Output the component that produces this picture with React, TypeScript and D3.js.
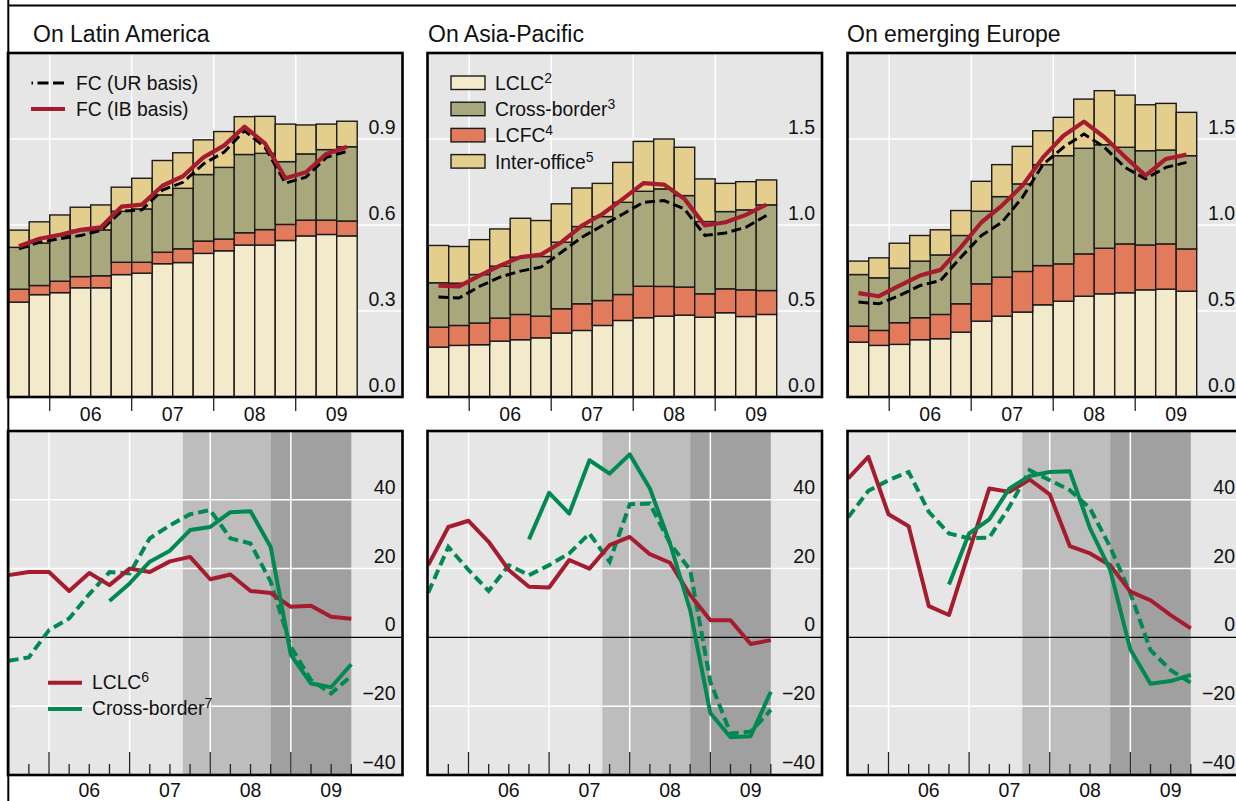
import React from 'react';
import * as d3 from 'd3';

// ---------- data ----------
const quarters = ['2005Q3','2005Q4','2006Q1','2006Q2','2006Q3','2006Q4','2007Q1','2007Q2','2007Q3','2007Q4','2008Q1','2008Q2','2008Q3','2008Q4','2009Q1','2009Q2','2009Q3'];
const regionTitles = ['On Latin America', 'On Asia-Pacific', 'On emerging Europe'];

// Foreign claims components (USD trn)
const latamLCLC = [0.331,0.357,0.364,0.381,0.381,0.427,0.432,0.465,0.469,0.501,0.510,0.530,0.530,0.546,0.562,0.567,0.562];
const latamLCFC = [0.045,0.032,0.040,0.039,0.042,0.043,0.038,0.040,0.048,0.043,0.041,0.043,0.054,0.056,0.055,0.050,0.052];
const latamCrossBorder = [0.146,0.148,0.159,0.161,0.160,0.178,0.186,0.200,0.211,0.232,0.250,0.273,0.266,0.219,0.231,0.246,0.259];
const latamInterOffice = [0.060,0.074,0.072,0.081,0.087,0.084,0.107,0.120,0.124,0.121,0.125,0.132,0.129,0.131,0.101,0.089,0.089];
const latamFCUR = [0.517,0.540,0.552,0.563,0.581,0.648,0.653,0.722,0.749,0.813,0.854,0.929,0.871,0.746,0.767,0.836,0.857];
const latamFCIB = [0.526,0.552,0.566,0.583,0.592,0.664,0.671,0.737,0.770,0.836,0.877,0.943,0.885,0.763,0.784,0.848,0.873];

const asiaLCLC = [0.290,0.300,0.304,0.325,0.333,0.344,0.372,0.387,0.416,0.445,0.461,0.470,0.476,0.464,0.490,0.468,0.480];
const asiaLCFC = [0.116,0.116,0.126,0.134,0.147,0.126,0.141,0.155,0.145,0.151,0.183,0.173,0.163,0.136,0.139,0.155,0.139];
const asiaCrossBorder = [0.258,0.246,0.282,0.302,0.333,0.347,0.387,0.449,0.488,0.536,0.552,0.567,0.532,0.420,0.449,0.465,0.498];
const asiaInterOffice = [0.217,0.213,0.203,0.216,0.226,0.209,0.223,0.224,0.193,0.232,0.290,0.290,0.281,0.248,0.164,0.164,0.145];
const asiaFCUR = [0.581,0.575,0.643,0.697,0.732,0.755,0.842,0.929,0.997,1.064,1.132,1.142,1.093,0.939,0.954,0.987,1.055];
const asiaFCIB = [0.648,0.643,0.706,0.764,0.813,0.828,0.900,0.997,1.064,1.152,1.243,1.235,1.152,0.997,1.016,1.059,1.119];

const europeLCLC = [0.319,0.300,0.306,0.333,0.339,0.377,0.441,0.470,0.494,0.536,0.557,0.586,0.600,0.606,0.623,0.627,0.615];
const europeLCFC = [0.093,0.087,0.126,0.128,0.141,0.165,0.217,0.227,0.236,0.228,0.217,0.246,0.265,0.284,0.261,0.263,0.246];
const europeCrossBorder = [0.300,0.306,0.317,0.329,0.346,0.397,0.422,0.468,0.509,0.587,0.629,0.614,0.602,0.562,0.548,0.546,0.542];
const europeInterOffice = [0.078,0.116,0.145,0.149,0.146,0.145,0.174,0.186,0.218,0.197,0.223,0.286,0.314,0.303,0.267,0.271,0.252];
const europeFCUR = [0.552,0.542,0.590,0.648,0.677,0.813,0.939,1.016,1.161,1.351,1.452,1.529,1.452,1.335,1.268,1.335,1.364];
const europeFCIB = [0.604,0.586,0.648,0.706,0.739,0.871,1.016,1.113,1.229,1.393,1.519,1.601,1.510,1.397,1.287,1.384,1.409];

// Growth rates (%, yoy) at quarter ends
const growthDates = [2005.5,2005.75,2006,2006.25,2006.5,2006.75,2007,2007.25,2007.5,2007.75,2008,2008.25,2008.5,2008.75,2009,2009.25,2009.5,2009.75];
const latamLCLCGrowth = [18.1,19,19,13.5,18.7,15.2,20,19,22.1,23.4,16.9,18.3,13.5,12.9,8.9,9.2,6,5.4];
const latamCBGrowth = [null,null,null,null,null,10.6,15.7,22,25.2,31.2,32.1,36.4,36.7,26.3,-5.1,-13.4,-14.5,-7.8];
const latamCBGrowthAlt = [-6.8,-5.8,2.1,5.5,12.6,19,18.6,28.8,32.6,35.8,37,28.8,27.3,16.2,-2.7,-12.4,-16.3,-11.2];
const asiaLCLCGrowth = [21,32.1,33.9,27.8,19.6,14.7,14.5,22.5,20,26.8,29.2,24.2,21.7,12.3,5,5,-1.9,-0.8];
const asiaCBGrowth = [null,null,null,null,null,28.5,42,36,51.5,47.6,53.2,43.3,27.3,7.9,-22,-29,-28.7,-15.8];
const asiaCBGrowthAlt = [13,26.3,19.6,13.5,21,18.1,21,24.4,30.2,22,38.7,38.9,27.3,19.6,-12.9,-27.9,-27.4,-21.1];
const europeLCLCGrowth = [46.2,52.5,35.8,32.3,9.1,6.5,25,43.3,42.3,45.9,41.6,26.5,24.4,21,13.3,10.8,6.5,2.6];
const europeCBGrowth = [null,null,null,null,null,15.4,30.2,34.3,43.3,46.9,48.1,48.3,31.7,19.6,-3.5,-13.5,-12.7,-10.9];
const europeCBGrowthAlt = [34.9,42.6,45.7,48.1,36.5,30.2,28.8,29,38,48.6,45.7,42.8,37.5,26.3,12.8,-3.7,-9.5,-13.2];

const yearTicks = [2006, 2007, 2008, 2009];
const yearLabels = ['06', '07', '08', '09'];
const topTicksLatam = [0, 0.3, 0.6, 0.9];
const topTicksOther = [0, 0.5, 1.0, 1.5];
const bottomTicks = [-40, -20, 0, 20, 40];
const crisisPhases = [[2007.66, 2008.75], [2008.75, 2009.75]];

// ---------- styling ----------
const FONT = '"Liberation Sans", Arial, Helvetica, sans-serif';
const BG = '#e6e6e6';
const C_LCLC = '#f3eacb';
const C_LCFC = '#e27a5c';
const C_CB = '#a8a87c';
const C_IO = '#e3ce8e';
const RED = '#a61b2e';
const GREEN = '#008a52';
const SHADES = ['#bdbdbd', '#a0a0a0'];

const panelLeft = [8, 427.5, 847.5];
const panelW = 394.5;
const TOP = { y0: 53, y1: 397 };
const BOT = { y0: 431, y1: 775 };
const titleX = [33, 428, 847];

const regions = [
  { lclc: latamLCLC, lcfc: latamLCFC, cb: latamCrossBorder, io: latamInterOffice, ur: latamFCUR, ib: latamFCIB, max: 1.2, ticks: topTicksLatam, gL: latamLCLCGrowth, gC: latamCBGrowth, gA: latamCBGrowthAlt },
  { lclc: asiaLCLC, lcfc: asiaLCFC, cb: asiaCrossBorder, io: asiaInterOffice, ur: asiaFCUR, ib: asiaFCIB, max: 2.0, ticks: topTicksOther, gL: asiaLCLCGrowth, gC: asiaCBGrowth, gA: asiaCBGrowthAlt },
  { lclc: europeLCLC, lcfc: europeLCFC, cb: europeCrossBorder, io: europeInterOffice, ur: europeFCUR, ib: europeFCIB, max: 2.0, ticks: topTicksOther, gL: europeLCLCGrowth, gC: europeCBGrowth, gA: europeCBGrowthAlt },
];

const qStart = (q: string) => +q.slice(0, 4) + (+q.slice(5) - 1) / 4;
const keys = ['lclc', 'lcfc', 'cb', 'io'];
const keyColor: Record<string, string> = { lclc: C_LCLC, lcfc: C_LCFC, cb: C_CB, io: C_IO };

function fmtTop(v: number) { return v.toFixed(1); }
function fmtBot(v: number) { return v < 0 ? '\u2212' + Math.abs(v) : String(v); }

function TopPanel({ i }: { i: number }) {
  const L = panelLeft[i];
  const R = L + panelW;
  const reg = regions[i];
  const x = d3.scaleLinear().domain([2005.5, 2009.75]).range([L + 0.7, L + 0.7 + 348.5]);
  const y = d3.scaleLinear().domain([0, reg.max]).range([TOP.y1, TOP.y0]);
  const rows = quarters.map((q, k) => ({ q, lclc: reg.lclc[k], lcfc: reg.lcfc[k], cb: reg.cb[k], io: reg.io[k] }));
  const series = d3.stack<any>().keys(keys)(rows);
  const line = d3.line<number>().x((_, k) => x(qStart(quarters[k]) + 0.125)).y(v => y(v));
  const clipId = `tclip${i}`;
  return (
    <g>
      <defs><clipPath id={clipId}><rect x={L} y={TOP.y0} width={panelW} height={TOP.y1 - TOP.y0} /></clipPath></defs>
      <rect x={L} y={TOP.y0} width={panelW} height={TOP.y1 - TOP.y0} fill={BG} />
      <g clipPath={`url(#${clipId})`}>
        {reg.ticks.filter(t => t > 0).map(t => (
          <line key={t} x1={L} x2={R} y1={y(t)} y2={y(t)} stroke="#fff" strokeWidth={1.5} />
        ))}
        {yearTicks.map(t => (
          <line key={t} x1={x(t)} x2={x(t)} y1={TOP.y0} y2={TOP.y1} stroke="#fff" strokeWidth={1.5} />
        ))}
        {series.map(s => s.map((d, k) => {
          const x0 = x(qStart(quarters[k]));
          const x1 = x(qStart(quarters[k]) + 0.25);
          return <rect key={s.key + k} x={x0} y={y(d[1])} width={x1 - x0} height={y(d[0]) - y(d[1])}
            fill={keyColor[s.key]} stroke="#1a1a1a" strokeWidth={1.4} />;
        }))}
        <path d={line(reg.ur) || ''} fill="none" stroke="#000" strokeWidth={3} strokeDasharray="10 4.5" />
        <path d={line(reg.ib) || ''} fill="none" stroke={RED} strokeWidth={4.2} strokeLinejoin="round" />
      </g>
      {reg.ticks.map(t => (
        <text key={t} x={R - 7} y={y(t) - 5} textAnchor="end" fontSize={19.5} fontFamily={FONT} fill="#111">{fmtTop(t)}</text>
      ))}
      <rect x={L} y={TOP.y0} width={panelW} height={TOP.y1 - TOP.y0} fill="none" stroke="#000" strokeWidth={2.6} />
      {yearTicks.map(t => (
        <line key={t} x1={x(t)} x2={x(t)} y1={TOP.y1} y2={TOP.y1 + 14} stroke="#222" strokeWidth={1.3} />
      ))}
      {yearTicks.map((t, k) => (
        <text key={t} x={x(t + 0.5)} y={420.5} textAnchor="middle" fontSize={19.5} fontFamily={FONT} fill="#111">{yearLabels[k]}</text>
      ))}
      <text x={titleX[i]} y={42} fontSize={23} fontFamily={FONT} fill="#111">{regionTitles[i]}</text>
    </g>
  );
}

function BottomPanel({ i }: { i: number }) {
  const L = panelLeft[i];
  const R = L + panelW;
  const reg = regions[i];
  const x = d3.scaleLinear().domain([2005.5, 2009.75]).range([L + 0.7, L + 0.7 + 342.6]);
  const y = d3.scaleLinear().domain([-40, 60]).range([BOT.y1, BOT.y0]);
  const line = d3.line<any>().defined(v => v !== null).x((_, k) => x(growthDates[k])).y(v => y(v));
  const clipId = `bclip${i}`;
  const minor = growthDates.filter(t => t > 2005.5 && t % 1 !== 0);
  return (
    <g>
      <defs><clipPath id={clipId}><rect x={L} y={BOT.y0} width={panelW} height={BOT.y1 - BOT.y0} /></clipPath></defs>
      <rect x={L} y={BOT.y0} width={panelW} height={BOT.y1 - BOT.y0} fill={BG} />
      <g clipPath={`url(#${clipId})`}>
        {crisisPhases.map((p, k) => (
          <rect key={k} x={x(p[0])} y={BOT.y0} width={x(p[1]) - x(p[0])} height={BOT.y1 - BOT.y0} fill={SHADES[k]} />
        ))}
        {bottomTicks.filter(t => t !== 0 && t !== -40).map(t => (
          <line key={t} x1={L} x2={R} y1={y(t)} y2={y(t)} stroke="#fff" strokeWidth={1.5} />
        ))}
        {yearTicks.map(t => (
          <line key={t} x1={x(t)} x2={x(t)} y1={BOT.y0} y2={BOT.y1} stroke="#fff" strokeWidth={1.5} />
        ))}
        <line x1={L} x2={R} y1={y(0)} y2={y(0)} stroke="#000" strokeWidth={1.2} />
        {yearTicks.map(t => (
          <line key={'M' + t} x1={x(t)} x2={x(t)} y1={BOT.y1} y2={BOT.y1 - 23} stroke="#222" strokeWidth={1.3} />
        ))}
        {minor.map(t => (
          <line key={'m' + t} x1={x(t)} x2={x(t)} y1={BOT.y1} y2={BOT.y1 - 11} stroke="#222" strokeWidth={1.3} />
        ))}
        <path d={line(reg.gA) || ''} fill="none" stroke={GREEN} strokeWidth={4} strokeDasharray="10 5" />
        <path d={line(reg.gL) || ''} fill="none" stroke={RED} strokeWidth={4} strokeLinejoin="round" />
        <path d={line(reg.gC) || ''} fill="none" stroke={GREEN} strokeWidth={4} strokeLinejoin="round" />
      </g>
      {bottomTicks.map(t => (
        <text key={t} x={R - 7} y={y(t) - 6} textAnchor="end" fontSize={19.5} fontFamily={FONT} fill="#111">{fmtBot(t)}</text>
      ))}
      <rect x={L} y={BOT.y0} width={panelW} height={BOT.y1 - BOT.y0} fill="none" stroke="#000" strokeWidth={2.6} />
      {yearTicks.map((t, k) => (
        <text key={t} x={x(t + 0.5)} y={796.5} textAnchor="middle" fontSize={19.5} fontFamily={FONT} fill="#111">{yearLabels[k]}</text>
      ))}
    </g>
  );
}

function Sup({ main, sup }: { main: string; sup: string }) {
  return (<>{main}<tspan dy={-7} fontSize={14}>{sup}</tspan></>);
}

export default function App() {
  const legendBars = [
    { label: 'LCLC', sup: '2', color: C_LCLC },
    { label: 'Cross-border', sup: '3', color: C_CB },
    { label: 'LCFC', sup: '4', color: C_LCFC },
    { label: 'Inter-office', sup: '5', color: C_IO },
  ];
  return (
    <svg width={1236} height={801} style={{ position: 'absolute', left: 0, top: 0, background: '#fff' }}>
      <rect x={0} y={0} width={1236} height={801} fill="#fff" />
      {[0, 1, 2].map(i => <TopPanel key={'t' + i} i={i} />)}
      {[0, 1, 2].map(i => <BottomPanel key={'b' + i} i={i} />)}

      {/* legend top-left */}
      <line x1={31.5} x2={65} y1={83} y2={83} stroke="#000" strokeWidth={3} strokeDasharray="11 4.5" strokeDashoffset={9.5} />
      <text x={76} y={90} fontSize={19.3} fontFamily={FONT} fill="#111">FC (UR basis)</text>
      <line x1={31} x2={65} y1={109} y2={109} stroke={RED} strokeWidth={4} />
      <text x={76} y={116} fontSize={19.3} fontFamily={FONT} fill="#111">FC (IB basis)</text>

      {/* legend top-middle */}
      {legendBars.map((d, k) => (
        <g key={d.label}>
          <rect x={451} y={76 + k * 26.2} width={34} height={13.5} fill={d.color} stroke="#1a1a1a" strokeWidth={1.4} />
          <text x={495} y={90 + k * 26.2} fontSize={19.3} fontFamily={FONT} fill="#111"><Sup main={d.label} sup={d.sup} /></text>
        </g>
      ))}

      {/* legend bottom-left */}
      <line x1={48} x2={82} y1={682.7} y2={682.7} stroke={RED} strokeWidth={4} />
      <text x={92} y={689} fontSize={19.3} fontFamily={FONT} fill="#111"><Sup main="LCLC" sup="6" /></text>
      <line x1={48} x2={82} y1={709} y2={709} stroke={GREEN} strokeWidth={4} />
      <text x={92} y={715} fontSize={19.3} fontFamily={FONT} fill="#111"><Sup main="Cross-border" sup="7" /></text>

      {/* outer frame lines */}
      <line x1={8} x2={1236} y1={5.5} y2={5.5} stroke="#000" strokeWidth={2} />
      <line x1={8.3} x2={8.3} y1={0} y2={801} stroke="#000" strokeWidth={2} />
    </svg>
  );
}
